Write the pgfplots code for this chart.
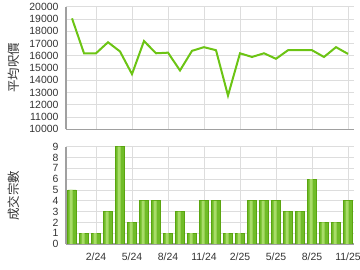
\documentclass[border=0pt]{standalone}
\usepackage{pgfplots}
\pgfplotsset{compat=1.18}
\usepackage{fontspec}
\setmainfont{Liberation Sans}
\newfontfamily\cjk{Noto Sans CJK TC}
\definecolor{linegreen}{HTML}{6CC414}
\definecolor{barlight}{HTML}{A8DC68}
\definecolor{bardark}{HTML}{70BC28}
\definecolor{bardraw}{HTML}{5AA510}
\definecolor{gridc}{HTML}{DDDDDD}
\definecolor{axc}{HTML}{A0A0A0}
\pgfplotstableread{
x y
0 5
1 1
2 1
3 3
4 9
5 2
6 4
7 4
8 1
9 3
10 1
11 4
12 4
13 1
14 1
15 4
16 4
17 4
18 3
19 3
20 6
21 2
22 2
23 4
}\bars
\begin{document}
\begin{tikzpicture}
\path[use as bounding box] (0,0) rectangle (360bp,270bp);
\pgfplotsset{
  common/.style={
    scale only axis, width=288bp,
    anchor=south west,
    xmin=-0.5, xmax=23.5,
    xtick={2,5,8,11,14,17,20,23},
    grid=major,
    major grid style={gridc, line width=0.8pt},
    axis x line*=bottom, axis y line*=left,
    axis line style={axc, line width=1.2pt, -},
    major tick length=0pt,
    scaled ticks=false,
    tick label style={font=\fontsize{10.5}{12}\selectfont, text=black!80},
    /pgf/number format/assume math mode=true,
    /pgf/number format/1000 sep={},
    yticklabel style={xshift=-4bp},
  }
}
\begin{axis}[common, at={(66bp,140.7bp)}, height=122.6bp,
  ymin=10000, ymax=20000, ytick={10000,11000,...,20000},
  xticklabels={}]
\addplot[linegreen, line width=2bp, mark=none] coordinates {
(0,19050) (1,16200) (2,16200) (3,17100) (4,16350) (5,14500) (6,17200) (7,16200)
(8,16250) (9,14800) (10,16400) (11,16700) (12,16450) (13,12750) (14,16200) (15,15900)
(16,16200) (17,15750) (18,16450) (19,16450) (20,16450) (21,15900) (22,16700) (23,16150)};
\end{axis}
\begin{axis}[common, at={(66bp,26bp)}, height=97.3bp,
  ymin=0, ymax=9, ytick={0,1,...,9},
  xticklabels={2/24,5/24,8/24,11/24,2/25,5/25,8/25,11/25},
  xticklabel style={yshift=-5bp}]
\addplot[ybar, bar width=8.3bp, draw=bardraw, line width=0.8pt, fill=bardark] table[x=x,y=y] {\bars};
\addplot[ybar, bar width=3.2bp, bar shift=-0.9bp, draw=none, fill=barlight] table[x=x,y=y] {\bars};
\end{axis}
\node[rotate=90, font=\cjk\fontsize{12.5}{14}\selectfont, text=black!80] at (14bp,202bp) {平均呎價};
\node[rotate=90, font=\cjk\fontsize{12.5}{14}\selectfont, text=black!80] at (14bp,74bp) {成交宗數};
\end{tikzpicture}
\end{document}
